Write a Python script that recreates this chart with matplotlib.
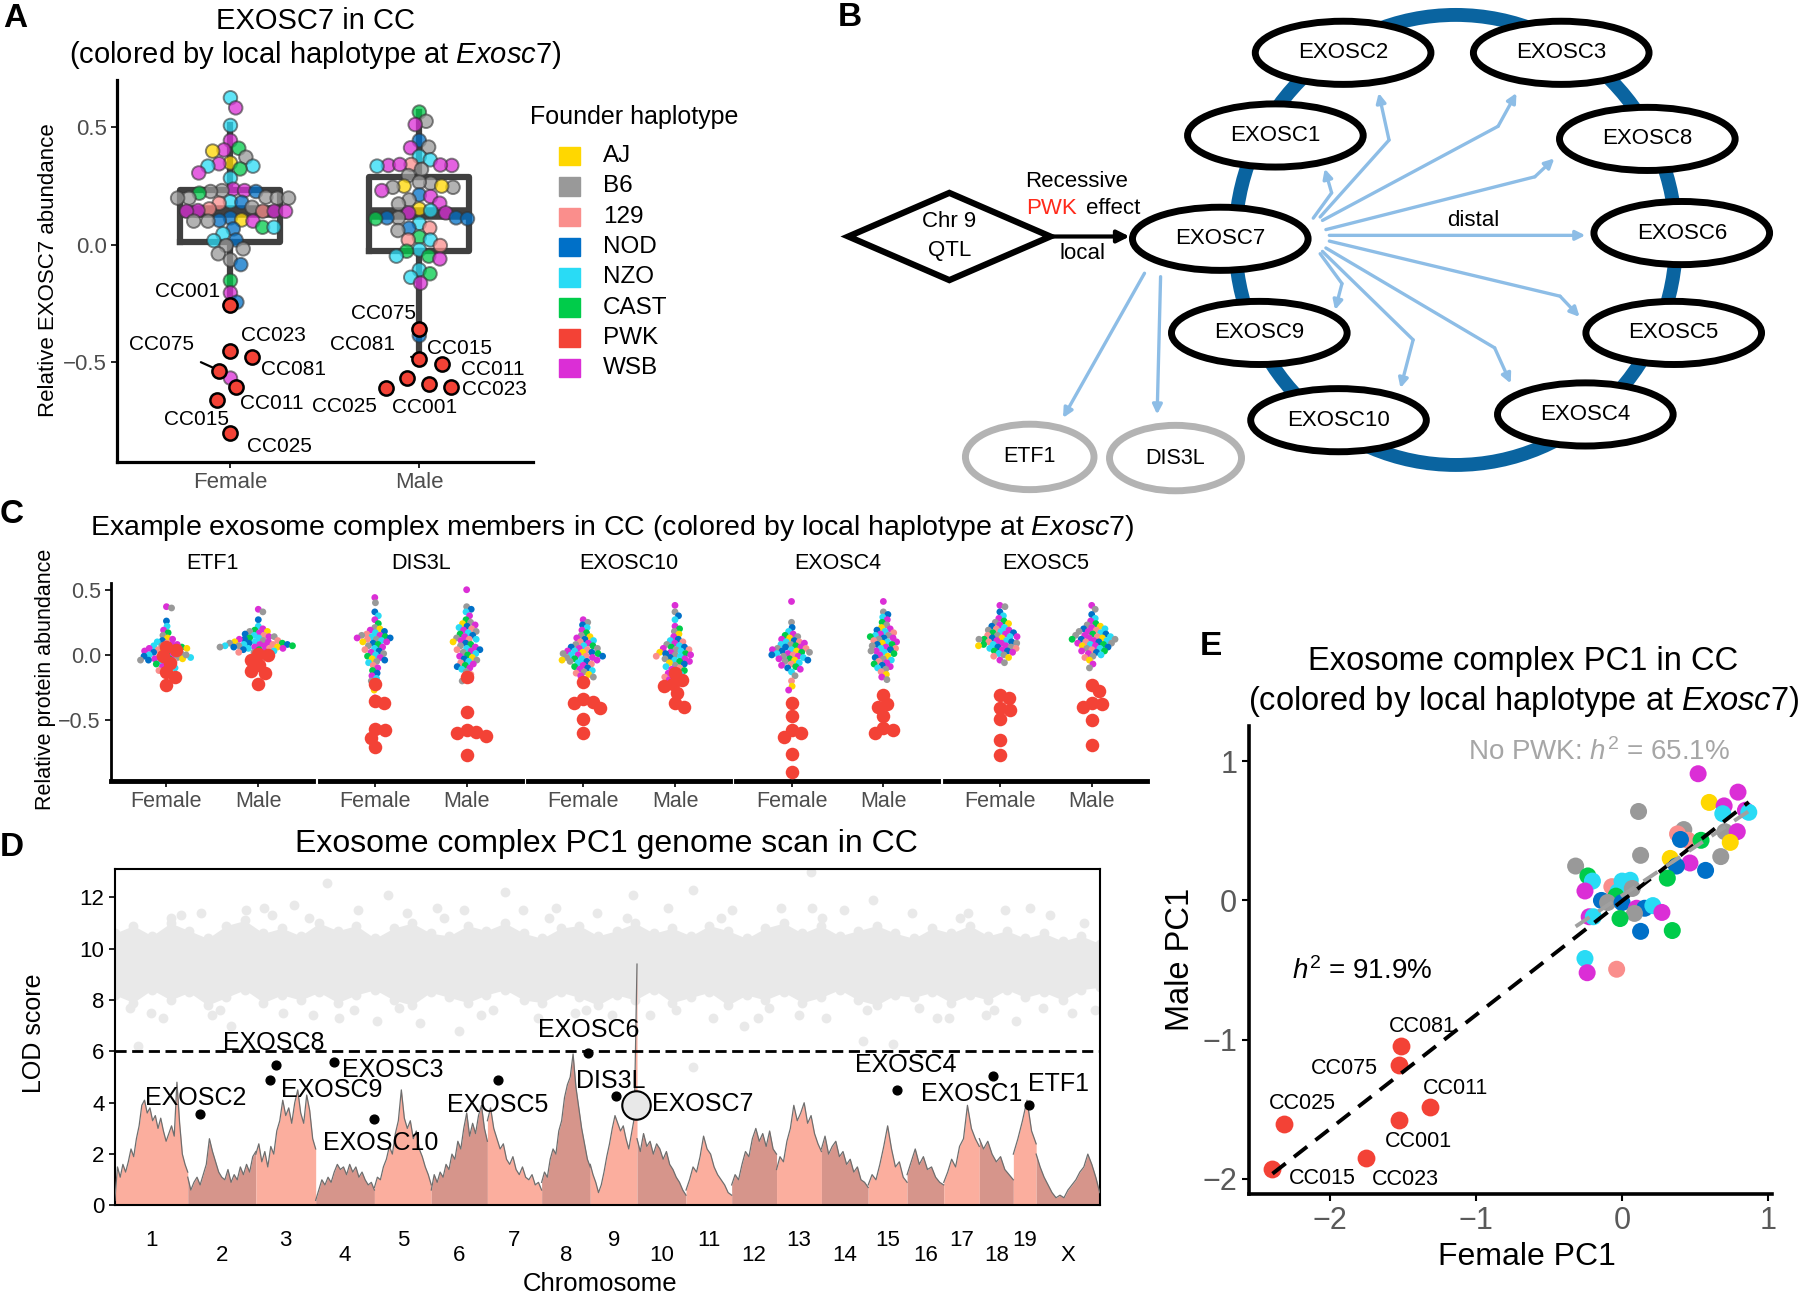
import numpy as np
import matplotlib
matplotlib.use("Agg")
import matplotlib.pyplot as plt
from matplotlib.colors import to_rgba
from matplotlib.patches import Ellipse, Polygon, Rectangle

plt.rcParams["font.family"] = ["Liberation Sans", "DejaVu Sans"]
plt.rcParams["mathtext.fontset"] = "custom"
plt.rcParams["mathtext.rm"] = "Liberation Sans"
plt.rcParams["mathtext.it"] = "Liberation Sans:italic"

# founder haplotype colours (code letter -> colour)
hap_names = ["AJ", "B6", "129", "NOD", "NZO", "CAST", "PWK", "WSB"]
hap_codes = ["A", "B", "1", "N", "Z", "C", "P", "W"]
hap_cols = ["#FFD700", "#999999", "#FA8E8C", "#0070C8", "#29DBF5", "#00CC4A", "#F34236", "#DB2ED6"]
col_of = dict(zip(hap_codes, hap_cols))
RED = col_of["P"]

# ---------------- panel A data (EXOSC7) ----------------
a_female = [0.626, 0.583, 0.508, 0.444, 0.411, 0.404, 0.399, 0.373, 0.349, 0.345,
            0.335, 0.335, 0.323, 0.306, 0.284, 0.237, 0.231, 0.231, 0.227, 0.220,
            0.227, 0.203, 0.199, 0.199, 0.199, 0.199, 0.184, 0.177, 0.181, 0.160,
            0.153, 0.146, 0.143, 0.143, 0.143, 0.143, 0.115, 0.104, 0.106, 0.101,
            0.101, 0.101, 0.075, 0.075, 0.068, 0.047, 0.021, 0.018, -0.003, -0.017,
            -0.038, -0.064, -0.084, -0.152, -0.204, -0.244, -0.567]
a_female_hap = "ZWZWCWABAWZZCWZWBWBCNBBBBBZ1NB1W1WWWNNABWBCZNZNZBBBBNCWNW"
a_male = [0.565, 0.526, 0.512, 0.444, 0.416, 0.413, 0.376, 0.362, 0.342, 0.338,
          0.338, 0.335, 0.340, 0.342, 0.321, 0.295, 0.262, 0.267, 0.250, 0.245,
          0.245, 0.250, 0.231, 0.213, 0.206, 0.191, 0.177, 0.174, 0.153, 0.146,
          0.136, 0.136, 0.115, 0.115, 0.115, 0.111, 0.111, 0.092, 0.072, 0.071,
          0.061, 0.033, 0.021, 0.021, -0.003, -0.021, -0.027, -0.048, -0.048, -0.060,
          -0.106, -0.123, -0.138, -0.163, -0.386]
a_male_hap = "CBWNBWZZ1WWZWWBBBBABBAWNWBWBAZWWBNNCNZ1NBCZ11ZCCZWZCZWN"
a_pwk_names = ["CC001", "CC075", "CC023", "CC081", "CC011", "CC015", "CC025"]
a_pwk_female = [-0.258, -0.535, -0.450, -0.478, -0.603, -0.660, -0.801]
a_pwk_male = [-0.592, -0.357, -0.603, -0.485, -0.566, -0.506, -0.609]

# ---------------- panel C data ----------------
c_genes = ["ETF1", "DIS3L", "EXOSC10", "EXOSC4", "EXOSC5"]
c_strain_hap = "WBNZWCBAWNZ1WBZCNWB1ZWANCBWZ1NWBZCWANBZ1WCNWZB1AWB"
c_female = [
    [0.37, 0.36, 0.26, 0.22, 0.19, 0.17, 0.15, 0.13, 0.12, 0.11, 0.10, 0.09, 0.08, 0.07, 0.07,
     0.06, 0.05, 0.05, 0.04, 0.04, 0.03, 0.03, 0.02, 0.02, 0.01, 0.01, 0.00, 0.00, -0.01, -0.01,
     -0.02, -0.02, -0.02, -0.03, -0.03, -0.03, -0.04, -0.04, -0.05, -0.05, -0.06, -0.07, -0.08,
     -0.09, -0.10, -0.11, -0.12, 0.05, 0.08, 0.00],
    [0.44, 0.40, 0.33, 0.30, 0.27, 0.24, 0.21, 0.20, 0.19, 0.18, 0.17, 0.16, 0.15, 0.15, 0.14,
     0.14, 0.13, 0.13, 0.12, 0.12, 0.11, 0.10, 0.10, 0.09, 0.08, 0.07, 0.06, 0.05, 0.04, 0.03,
     0.02, 0.01, 0.00, -0.01, -0.02, -0.03, -0.04, -0.05, -0.06, -0.08, -0.10, -0.12, -0.14,
     -0.16, -0.18, -0.20, -0.23, -0.27, -0.33, -0.36],
    [0.27, 0.25, 0.23, 0.21, 0.19, 0.17, 0.15, 0.14, 0.13, 0.12, 0.11, 0.10, 0.09, 0.08, 0.07,
     0.07, 0.06, 0.05, 0.05, 0.04, 0.03, 0.03, 0.02, 0.02, 0.01, 0.01, 0.00, 0.00, -0.01, -0.01,
     -0.02, -0.02, -0.03, -0.03, -0.04, -0.04, -0.05, -0.05, -0.06, -0.07, -0.08, -0.09, -0.10,
     -0.11, -0.12, -0.13, -0.14, -0.15, -0.16, -0.17],
    [0.41, 0.25, 0.21, 0.18, 0.16, 0.15, 0.14, 0.13, 0.12, 0.11, 0.10, 0.10, 0.09, 0.08, 0.08,
     0.07, 0.06, 0.06, 0.05, 0.05, 0.04, 0.04, 0.03, 0.03, 0.02, 0.02, 0.01, 0.01, 0.00, 0.00,
     -0.01, -0.01, -0.02, -0.03, -0.03, -0.04, -0.04, -0.05, -0.06, -0.07, -0.08, -0.09, -0.10,
     -0.11, -0.13, -0.16, -0.20, -0.24, -0.27, -0.35],
    [0.38, 0.37, 0.33, 0.30, 0.28, 0.26, 0.25, 0.24, 0.23, 0.22, 0.21, 0.20, 0.19, 0.19, 0.18,
     0.17, 0.17, 0.16, 0.15, 0.15, 0.14, 0.14, 0.13, 0.13, 0.12, 0.12, 0.11, 0.11, 0.10, 0.10,
     0.09, 0.09, 0.08, 0.08, 0.07, 0.07, 0.06, 0.06, 0.05, 0.05, 0.04, 0.03, 0.03, 0.02, 0.01,
     0.00, -0.01, -0.02, -0.04, -0.06],
]
c_male = [
    [0.35, 0.33, 0.27, 0.22, 0.20, 0.19, 0.18, 0.18, 0.17, 0.16, 0.15, 0.15, 0.14, 0.14, 0.13,
     0.13, 0.12, 0.12, 0.11, 0.11, 0.10, 0.10, 0.10, 0.09, 0.09, 0.09, 0.08, 0.08, 0.08, 0.08,
     0.07, 0.07, 0.07, 0.07, 0.06, 0.06, 0.06, 0.06, 0.05, 0.05, 0.05, 0.04, 0.04, 0.03, 0.03,
     0.02, 0.02, 0.01, 0.00, -0.01],
    [0.50, 0.37, 0.35, 0.33, 0.30, 0.27, 0.25, 0.24, 0.23, 0.22, 0.21, 0.20, 0.19, 0.18, 0.17,
     0.16, 0.15, 0.14, 0.13, 0.12, 0.12, 0.11, 0.10, 0.09, 0.08, 0.07, 0.06, 0.05, 0.04, 0.04,
     0.03, 0.02, 0.01, 0.00, -0.01, -0.02, -0.03, -0.04, -0.05, -0.06, -0.07, -0.08, -0.09,
     -0.10, -0.11, -0.13, -0.15, -0.17, -0.19, -0.20],
    [0.38, 0.33, 0.30, 0.27, 0.22, 0.20, 0.18, 0.16, 0.14, 0.12, 0.11, 0.10, 0.09, 0.08, 0.07,
     0.06, 0.06, 0.05, 0.04, 0.04, 0.03, 0.02, 0.02, 0.01, 0.01, 0.00, 0.00, -0.01, -0.01, -0.02,
     -0.03, -0.03, -0.04, -0.05, -0.05, -0.06, -0.07, -0.08, -0.09, -0.10, -0.11, -0.12, -0.13,
     -0.14, -0.15, -0.16, -0.17, -0.18, -0.19, -0.20],
    [0.41, 0.33, 0.31, 0.29, 0.27, 0.25, 0.23, 0.21, 0.20, 0.19, 0.18, 0.17, 0.16, 0.15, 0.15,
     0.14, 0.13, 0.13, 0.12, 0.11, 0.10, 0.10, 0.09, 0.08, 0.08, 0.07, 0.06, 0.05, 0.05, 0.04,
     0.03, 0.03, 0.02, 0.01, 0.00, -0.01, -0.02, -0.03, -0.04, -0.05, -0.06, -0.07, -0.08,
     -0.09, -0.10, -0.11, -0.13, -0.15, -0.17, -0.19],
    [0.38, 0.35, 0.31, 0.28, 0.26, 0.24, 0.23, 0.22, 0.21, 0.20, 0.20, 0.19, 0.18, 0.18, 0.17,
     0.16, 0.16, 0.15, 0.15, 0.14, 0.14, 0.13, 0.13, 0.12, 0.12, 0.12, 0.11, 0.11, 0.10, 0.10,
     0.09, 0.09, 0.08, 0.08, 0.07, 0.07, 0.06, 0.05, 0.05, 0.04, 0.03, 0.03, 0.02, 0.01, 0.00,
     -0.01, -0.02, -0.04, -0.07, -0.10],
]
c_pwk_female = [
    [-0.23, -0.17, -0.13, -0.06, -0.01, 0.04, 0.06],
    [-0.22, -0.35, -0.37, -0.57, -0.58, -0.64, -0.71],
    [-0.21, -0.34, -0.36, -0.37, -0.41, -0.49, -0.60],
    [-0.37, -0.47, -0.58, -0.60, -0.63, -0.76, -0.90],
    [-0.31, -0.33, -0.41, -0.42, -0.49, -0.65, -0.77],
]
c_pwk_male = [
    [0.01, 0.00, -0.04, -0.08, -0.12, -0.14, -0.22],
    [-0.17, -0.44, -0.58, -0.59, -0.60, -0.62, -0.77],
    [-0.14, -0.19, -0.22, -0.24, -0.29, -0.37, -0.40],
    [-0.31, -0.38, -0.40, -0.47, -0.56, -0.58, -0.60],
    [-0.23, -0.28, -0.37, -0.38, -0.40, -0.50, -0.69],
]

# ---------------- panel D data (genome scan) ----------------
chr_names = ["1", "2", "3", "4", "5", "6", "7", "8", "9", "10",
             "11", "12", "13", "14", "15", "16", "17", "18", "19", "X"]
chr_len = [195, 182, 160, 157, 152, 150, 145, 130, 125, 131,
           122, 120, 120, 125, 104, 98, 95, 91, 61, 170]
lod_by_chr = [
    [0.2, 1.5, 1.1, 1.6, 1.3, 1.7, 2.2, 1.9, 2.6, 3.1, 3.9, 4.1, 3.6, 3.8, 3.3, 3.5, 3.0, 3.4,
     2.9, 2.5, 2.8, 3.1, 2.7, 4.8, 3.2, 2.0, 1.6, 1.3],
    [1.1, 0.6, 0.9, 1.1, 0.8, 1.2, 1.6, 2.6, 2.1, 1.7, 1.3, 1.1, 1.0, 1.4, 0.9, 1.2, 1.0, 1.5,
     1.2, 1.6, 1.3, 1.9, 2.1],
    [2.0, 2.4, 1.7, 2.1, 1.5, 2.3, 2.0, 2.9, 3.3, 4.1, 3.5, 3.8, 3.2, 4.0, 4.5, 3.6, 3.2, 4.3,
     3.7, 2.6, 2.2],
    [0.2, 0.6, 1.0, 0.8, 1.1, 0.9, 1.3, 1.6, 1.4, 1.5, 1.2, 1.6, 1.3, 1.5, 1.1, 1.3, 1.0, 0.8,
     0.9, 0.6],
    [0.7, 1.1, 1.0, 1.5, 1.8, 2.3, 2.0, 2.8, 3.3, 4.5, 3.4, 3.0, 3.3, 2.6, 2.9, 2.2, 1.9, 1.5,
     1.2, 0.8],
    [0.6, 1.2, 0.9, 1.3, 1.1, 1.6, 1.4, 2.0, 1.8, 2.5, 2.2, 3.0, 3.6, 2.7, 3.2, 2.8, 3.5, 3.9,
     3.0, 2.5],
    [3.3, 3.8, 3.0, 2.6, 2.2, 2.4, 1.8, 1.6, 1.9, 1.4, 1.2, 1.5, 1.1, 1.0, 1.2, 0.8, 0.9, 0.6],
    [0.9, 1.3, 1.1, 1.8, 2.2, 2.0, 2.9, 3.3, 4.2, 4.7, 5.0, 5.9, 4.6, 3.8, 3.0, 2.4, 1.8, 1.5],
    [1.6, 1.2, 0.9, 0.5, 0.8, 1.3, 1.9, 2.4, 3.0, 3.5, 3.2, 2.9, 3.1, 2.6, 2.2, 2.8, 3.4, 9.4],
    [2.6, 2.1, 2.8, 2.3, 2.5, 2.0, 2.4, 2.2, 1.8, 2.1, 1.6, 1.4, 1.1, 0.9, 0.6, 0.4],
    [0.6, 1.0, 1.5, 1.3, 1.9, 2.7, 2.2, 2.0, 1.5, 1.2, 1.0, 0.8, 0.5, 0.4],
    [0.8, 1.2, 1.0, 1.6, 2.1, 1.9, 2.6, 3.0, 2.5, 2.8, 2.3, 2.9, 2.2, 2.0],
    [1.4, 1.9, 1.7, 2.5, 3.0, 3.9, 3.3, 3.6, 4.0, 3.2, 3.5, 2.8, 2.4, 2.1],
    [2.2, 2.7, 2.0, 2.3, 2.5, 1.9, 2.1, 1.6, 1.8, 1.3, 1.5, 1.0, 0.9, 0.7],
    [0.8, 1.2, 1.0, 1.6, 2.3, 3.1, 2.2, 1.5, 1.7, 1.1, 0.9],
    [1.2, 1.7, 2.2, 1.6, 1.9, 1.4, 1.5, 1.1, 0.9, 0.8],
    [0.9, 1.3, 1.8, 1.5, 2.3, 2.6, 3.9, 3.0, 2.6, 2.3],
    [2.6, 2.2, 2.5, 2.0, 1.7, 1.9, 1.4, 1.2, 1.0],
    [2.0, 2.6, 3.3, 4.1, 2.9, 2.4],
    [2.0, 1.5, 1.1, 0.8, 0.5, 0.3, 0.4, 0.3, 0.6, 0.8, 1.0, 1.3, 1.5, 2.0, 1.6, 1.1, 0.5],
]
# permutation cloud: dense band edges (evenly along genome) plus scattered points
band_hi = [10.6, 10.9, 10.5, 11.0, 10.7, 10.4, 10.9, 11.1, 10.6, 10.8, 10.5, 11.0, 10.7, 10.9,
           10.4, 10.8, 11.0, 10.6, 10.5, 10.9, 10.7, 11.0, 10.6, 10.4, 10.8, 10.9, 10.5, 10.7,
           11.0, 10.6, 10.8, 10.5, 10.9, 10.7, 10.4, 10.8, 11.0, 10.6, 10.9, 10.5, 10.7, 10.9,
           10.6, 10.4, 10.8, 10.6, 10.9, 10.5, 10.7, 10.4, 10.6, 10.3, 10.5, 10.2]
band_lo = [8.2, 7.9, 8.4, 8.0, 8.3, 7.8, 8.1, 8.4, 7.9, 8.2, 8.0, 8.3, 7.9, 8.2, 8.4, 8.0,
           7.8, 8.3, 8.1, 7.9, 8.2, 8.4, 8.0, 7.9, 8.3, 8.1, 7.8, 8.2, 8.0, 8.4, 7.9, 8.1,
           8.3, 7.8, 8.2, 8.0, 8.3, 7.9, 8.1, 8.4, 8.0, 7.8, 8.2, 8.1, 8.3, 7.9, 8.2, 8.0,
           8.4, 8.1, 8.3, 8.0, 8.4, 8.5]
cloud_pts = [(61, 6.2), (96, 7.5), (130, 7.3), (176, 11.3), (230, 11.4), (260, 7.4), (310, 7.0),
             (350, 11.5), (400, 11.6), (450, 7.5), (480, 11.7), (530, 7.4), (567, 12.55), (600, 7.3),
             (650, 11.5), (700, 7.2), (730, 12.1), (780, 11.4), (816, 7.1), (860, 11.6), (921, 6.8),
             (933, 11.5), (980, 7.4), (1044, 12.2), (1090, 11.5), (1130, 7.3), (1180, 11.6),
             (1230, 7.5), (1290, 11.4), (1330, 7.4), (1384, 12.1), (1430, 7.4), (1480, 11.6),
             (1546, 12.3), (1546, 5.4), (1600, 7.3), (1650, 11.5), (1683, 7.0), (1720, 7.3),
             (1780, 11.6), (1830, 7.4), (1862, 13.0), (1864, 11.6), (1900, 7.3), (1950, 11.5),
             (1999, 6.4), (2027, 11.9), (2080, 6.3), (2130, 11.4), (2199, 7.3), (2230, 7.3),
             (2280, 11.4), (2330, 7.4), (2380, 11.5), (2408, 7.2), (2447, 11.6), (2500, 11.3),
             (2560, 7.5), (2619, 7.6), (40, 7.7), (150, 11.2), (280, 7.6), (420, 11.3), (520, 11.2),
             (640, 7.6), (760, 7.7), (880, 11.2), (1010, 7.6), (1160, 11.2), (1260, 7.6),
             (1370, 11.2), (1500, 7.6), (1620, 11.2), (1750, 7.7), (1890, 11.2), (2010, 7.6),
             (2150, 7.7), (2260, 11.2), (2350, 7.6), (2480, 7.7), (2590, 11.0)]
lod_threshold = 6.0
d_genes = ["EXOSC2", "EXOSC8", "EXOSC9", "EXOSC3", "EXOSC10", "EXOSC5",
           "EXOSC6", "DIS3L", "EXOSC4", "EXOSC1", "ETF1"]
d_gene_pos = [227, 432, 414, 586, 693, 1024, 1264, 1340, 2092, 2347, 2445]
d_gene_lod = [3.58, 5.46, 4.88, 5.60, 3.36, 4.88, 5.95, 4.25, 4.50, 5.06, 3.90]
d_exosc7_pos, d_exosc7_lod = 1394, 3.9

# ---------------- panel E data (PC1) ----------------
e_hap = "WWAWBWZZB1BW1NCABABWNNBCZCW1ZZZCBNBNWNZWBWZCNCZ1W"
e_female = [0.521, 0.794, 0.597, 0.699, 0.113, 0.845, 0.868, 0.690, 0.423, 0.380,
            0.704, 0.789, 0.451, 0.400, 0.541, 0.741, 0.127, 0.330, 0.676, 0.465,
            0.372, 0.572, -0.318, -0.234, -0.203, 0.310, -0.254, -0.070, 0.000, 0.056,
            -0.028, -0.042, 0.070, -0.141, -0.099, 0.000, 0.099, 0.155, 0.211, 0.273,
            0.085, -0.225, -0.197, -0.014, 0.127, 0.344, -0.254, -0.037, -0.239]
e_male = [0.910, 0.778, 0.704, 0.679, 0.639, 0.648, 0.633, 0.623, 0.509, 0.478,
          0.494, 0.494, 0.432, 0.438, 0.432, 0.417, 0.324, 0.302, 0.315, 0.269,
          0.247, 0.216, 0.247, 0.176, 0.139, 0.160, 0.068, 0.099, 0.139, 0.145,
          0.062, 0.031, 0.086, 0.000, -0.015, -0.015, -0.056, -0.056, -0.037, -0.086,
          -0.093, -0.117, -0.117, -0.130, -0.222, -0.216, -0.417, -0.494, -0.519]
e_pwk_names = ["CC081", "CC075", "CC011", "CC001", "CC025", "CC015", "CC023"]
e_pwk_female = [-1.513, -1.530, -1.315, -1.527, -2.315, -2.394, -1.752]
e_pwk_male = [-1.043, -1.179, -1.481, -1.574, -1.605, -1.929, -1.852]

# ======================================================================
FW, FH = 1800, 1295
W, H = 1568.0, 1128.0  # layout grid used below


def rect(x0, y0, x1, y1):
    return [x0 / W, 1 - y1 / H, (x1 - x0) / W, (y1 - y0) / H]


fig = plt.figure(figsize=(FW / 100, FH / 100), dpi=100)


def ftext(x, y, s, **kw):
    kw.setdefault("ha", "center")
    kw.setdefault("va", "center")
    fig.text(x / W, 1 - y / H, s, **kw)


def swarm(ax, ys, diam, gap=1.0):
    # simple beeswarm: x offsets (data units) so that dots don't overlap
    x0, x1 = ax.get_xlim()
    y0, y1 = ax.get_ylim()
    pos = ax.get_position()
    sx = pos.width * FW / (x1 - x0)
    sy = pos.height * FH / (y1 - y0)
    ys = np.asarray(ys, float)
    diam = np.asarray(diam, float)
    px, py, pd = [], [], []
    off = np.zeros(len(ys))
    for i in np.argsort(-ys, kind="stable"):
        yi = ys[i] * sy
        cands = [0.0]
        for xj, yj, dj in zip(px, py, pd):
            dm = gap * (diam[i] + dj) / 2
            dy = yi - yj
            if abs(dy) < dm:
                dx = np.sqrt(dm * dm - dy * dy)
                cands += [xj + dx, xj - dx]
        cands.sort(key=abs)
        for c in cands:
            if all((c - xj) ** 2 + (yi - yj) ** 2 >= (gap * (diam[i] + dj) / 2) ** 2 - 1e-6
                   for xj, yj, dj in zip(px, py, pd)):
                break
        off[i] = c
        px.append(c)
        py.append(yi)
        pd.append(diam[i])
    return off / sx


GRAY_TXT = "#4D4D4D"

# ---------------- A ----------------
axA = fig.add_axes(rect(102, 70, 464, 402))
axA.set_xlim(0.4, 2.6)
axA.set_ylim(-0.922, 0.70)
box_kw = dict(color="#404040", lw=4.5)
axA.boxplot([a_female + a_pwk_female, a_male + a_pwk_male], positions=[1, 2], widths=0.53,
            whis=1.5, showfliers=False, showcaps=False, boxprops=box_kw, whiskerprops=box_kw,
            medianprops=dict(color="#404040", lw=9, solid_capstyle="butt"), zorder=1)

# label offsets in points (dx, dy) and which ones get a leader line
a_off_f = {"CC001": (-31, 10), "CC075": (-42, 19), "CC023": (31, 11), "CC081": (30, -9),
           "CC011": (26, -12), "CC015": (-15, -14), "CC025": (35, -10)}
a_off_m = {"CC001": (-3, -17), "CC075": (-26, 11), "CC023": (31, -2), "CC081": (-41, 10),
           "CC011": (62, 6), "CC015": (13, 11), "CC025": (-30, -13)}
a_lead_f = ["CC075"]
a_lead_m = ["CC081"]
for xc, vals, haps, pwk, offs, lead in [(1, a_female, a_female_hap, a_pwk_female, a_off_f, a_lead_f),
                                         (2, a_male, a_male_hap, a_pwk_male, a_off_m, a_lead_m)]:
    xo = xc + swarm(axA, vals, [12] * len(vals), gap=0.95)
    xp = xc + swarm(axA, pwk, [24] * len(pwk), gap=0.95)
    axA.scatter(xo, vals, s=95, c=[to_rgba(col_of[h], 0.75) for h in haps],
                edgecolors=[(0.2, 0.2, 0.2, 0.6)], linewidths=1.4, zorder=3)
    axA.scatter(xp, pwk, s=105, c=RED, edgecolors="black", linewidths=1.8, zorder=4)
    for k, name in enumerate(a_pwk_names):
        axA.annotate(name, xy=(xp[k], pwk[k]), xytext=offs[name], textcoords="offset points",
                     ha="center", va="center", fontsize=15,
                     arrowprops=dict(arrowstyle="-", color="black", lw=1.6, shrinkA=10, shrinkB=5)
                     if name in lead else None, zorder=5)
for s in ["top", "right"]:
    axA.spines[s].set_visible(False)
for s in ["left", "bottom"]:
    axA.spines[s].set_linewidth(2.3)
axA.set_yticks([0.5, 0.0, -0.5])
axA.set_yticklabels(["0.5", "0.0", "\u22120.5"])
axA.set_xticks([1, 2])
axA.set_xticklabels(["Female", "Male"])
axA.tick_params(labelsize=16, labelcolor=GRAY_TXT, length=4, width=1.2)
ftext(275, 18, "EXOSC7 in CC", fontsize=21)
ftext(275, 48, "(colored by local haplotype at $\\mathit{Exosc7}$)", fontsize=21)
ftext(42, 235, "Relative EXOSC7 abundance", fontsize=16, rotation=90)
ftext(13, 16, "A", fontsize=24, fontweight="bold")

# legend
axL = fig.add_axes(rect(455, 85, 700, 340))
axL.set_xlim(455, 700)
axL.set_ylim(340, 85)
axL.axis("off")
axL.text(462, 102, "Founder haplotype", fontsize=18, va="center")
for k, (nm, cl) in enumerate(zip(hap_names, hap_cols)):
    yc = 136 + k * 26.4
    axL.add_patch(Rectangle((487, yc - 8), 18, 16, color=cl))
    axL.text(525, yc, nm, fontsize=17.5, va="center")

# ---------------- B ----------------
axB = fig.add_axes(rect(700, 0, 1568, 445))
axB.set_xlim(700, 1568)
axB.set_ylim(445, 0)
axB.axis("off")
axB.add_patch(Ellipse((1268, 209), 384, 392, fill=False, ec="#0A64A0", lw=10, zorder=1))
b_nodes = {"EXOSC2": (1170, 46), "EXOSC3": (1360, 46), "EXOSC1": (1111, 118),
           "EXOSC8": (1435, 121), "EXOSC7": (1063, 208), "EXOSC6": (1465, 203),
           "EXOSC9": (1097, 290), "EXOSC5": (1458, 290), "EXOSC10": (1166, 366),
           "EXOSC4": (1381, 361)}
for name, (cx, cy) in b_nodes.items():
    axB.add_patch(Ellipse((cx, cy), 153, 55, fc="white", ec="black", lw=5, zorder=3))
    axB.text(cx, cy, name, fontsize=16, ha="center", va="center", zorder=4)
for name, (cx, cy), w in [("ETF1", (897, 398), 112), ("DIS3L", (1024, 399), 115)]:
    axB.add_patch(Ellipse((cx, cy), w, 57, fc="white", ec="#B3B3B3", lw=5, zorder=3))
    axB.text(cx, cy, name, fontsize=15.5, ha="center", va="center", zorder=4)
axB.add_patch(Polygon([(739, 206), (827, 168), (915, 206), (827, 244)], closed=True,
                      fc="white", ec="black", lw=4.5, joinstyle="miter", zorder=3))
axB.text(827, 206, "Chr 9\nQTL", fontsize=16, ha="center", va="center", linespacing=1.5, zorder=4)
axB.annotate("", xy=(984, 206), xytext=(915, 206),
             arrowprops=dict(arrowstyle="-|>", color="black", lw=3, mutation_scale=18,
                             shrinkA=0, shrinkB=0), zorder=4)
axB.text(938, 158, "Recessive", fontsize=16, ha="center", va="center")
axB.text(894, 182, "PWK", fontsize=16, ha="left", va="center", color="#FF2A1A")
axB.text(946, 182, "effect", fontsize=16, ha="left", va="center")
axB.text(943, 221, "local", fontsize=16, ha="center", va="center")
axB.text(1283, 192, "distal", fontsize=16, ha="center", va="center")
b_arrows = [
    [(1144, 190), (1160, 168), (1154, 147)],
    [(1150, 189), (1210, 122), (1201, 81)],
    [(1152, 192), (1305, 110), (1321, 81)],
    [(1155, 200), (1337, 154), (1354, 138)],
    [(1158, 205), (1381, 205)],
    [(1158, 210), (1359, 258), (1376, 276)],
    [(1155, 216), (1302, 303), (1316, 334)],
    [(1152, 219), (1231, 296), (1220, 338)],
    [(1150, 221), (1169, 247), (1163, 270)],
    [(997, 238), (926, 364)],
    [(1011, 241), (1008, 361)],
]
ARROW = "#8DBDE6"
for path in b_arrows:
    xs, ys = zip(*path)
    axB.plot(xs[:-1], ys[:-1], color=ARROW, lw=2.4, solid_capstyle="round", zorder=2)
    axB.annotate("", xy=path[-1], xytext=path[-2],
                 arrowprops=dict(arrowstyle="-|>", color=ARROW, lw=2.4, mutation_scale=14,
                                 shrinkA=0, shrinkB=0), zorder=2)
ftext(740, 15, "B", fontsize=24, fontweight="bold")

# ---------------- C ----------------
ftext(533, 460, "Example exosome complex members in CC (colored by local haplotype at $\\mathit{Exosc7}$)",
      fontsize=20.5)
ftext(40, 592, "Relative protein abundance", fontsize=15.5, rotation=90)
ftext(10, 448, "C", fontsize=24, fontweight="bold")
for k, gene in enumerate(c_genes):
    x0 = 97 + k * 181.5
    ax = fig.add_axes(rect(x0, 508, x0 + 176, 680))
    ax.set_xlim(0.4, 2.6)
    ax.set_ylim(-0.965, 0.55)
    for xc, vals, pwk in [(1, c_female[k], c_pwk_female[k]), (2, c_male[k], c_pwk_male[k])]:
        xo = xc + swarm(ax, vals, [7] * len(vals), gap=0.75)
        xp = xc + swarm(ax, pwk, [11] * len(pwk), gap=0.9)
        ax.scatter(xo, vals, s=24, c=[col_of[h] for h in c_strain_hap[:len(vals)]],
                   linewidths=0, zorder=3)
        ax.scatter(xp, pwk, s=95, c=RED, linewidths=0, zorder=4)
    for s in ["top", "right"]:
        ax.spines[s].set_visible(False)
    ax.spines["bottom"].set_linewidth(3.5)
    ax.set_xticks([1, 2])
    ax.set_xticklabels(["Female", "Male"])
    if k == 0:
        ax.spines["left"].set_linewidth(2)
        ax.set_yticks([0.5, 0.0, -0.5])
        ax.set_yticklabels(["0.5", "0.0", "\u22120.5"])
    else:
        ax.spines["left"].set_visible(False)
        ax.set_yticks([])
    ax.tick_params(labelsize=15.5, labelcolor=GRAY_TXT, length=4, width=1.2)
    ftext(x0 + 88, 491, gene, fontsize=15.5)

# ---------------- D ----------------
axD = fig.add_axes(rect(100, 757, 958, 1050))
total = sum(chr_len)
axD.set_xlim(0, total)
axD.set_ylim(0, 13.1)
starts = np.concatenate([[0], np.cumsum(chr_len)])
CLOUD = "#E9E9E9"
band_pos = np.linspace(0, total, len(band_hi))
axD.fill_between(band_pos, band_lo, band_hi, color=CLOUD, lw=0, zorder=1)
axD.scatter(band_pos, band_hi, s=50, color=CLOUD, linewidths=0, zorder=1)
axD.scatter(band_pos, band_lo, s=50, color=CLOUD, linewidths=0, zorder=1)
cx, cy = zip(*cloud_pts)
axD.scatter(cx, cy, s=50, color=CLOUD, linewidths=0, zorder=1)
for i, (st, ln, lods) in enumerate(zip(starts[:-1], chr_len, lod_by_chr)):
    xs = st + np.linspace(0, ln, len(lods))
    axD.fill_between(xs, 0, lods, color="#FBAE9E" if i % 2 == 0 else "#D6958B", lw=0, zorder=2)
    axD.plot(xs, lods, color="#6E6E6E", lw=0.9, zorder=3)
    axD.annotate(chr_names[i], xy=(st + ln / 2, 0), xycoords=("data", "axes fraction"),
                 xytext=(0, -25 if i % 2 == 0 else -36), textcoords="offset points",
                 ha="center", va="center", fontsize=16)
axD.axhline(lod_threshold, color="black", lw=2, ls=(0, (4, 2)), zorder=4)
axD.scatter(d_gene_pos, d_gene_lod, s=40, color="black", zorder=5)
axD.scatter([d_exosc7_pos], [d_exosc7_lod], s=420, color="#E8E8E8", edgecolors="black",
            linewidths=1.5, zorder=5)
d_off = {"EXOSC2": (-3, 11), "EXOSC8": (-2, 16), "EXOSC9": (45, -7), "EXOSC3": (42, -6),
         "EXOSC10": (5, -17), "EXOSC5": (0, -18), "EXOSC6": (1, 16), "DIS3L": (-4, 11),
         "EXOSC4": (6, 18), "EXOSC1": (-15, -13), "ETF1": (21, 15)}
for name, xp, yl in zip(d_genes, d_gene_pos, d_gene_lod):
    axD.annotate(name, xy=(xp, yl), xytext=d_off[name], textcoords="offset points",
                 ha="center", va="center", fontsize=18, zorder=6)
axD.annotate("EXOSC7", xy=(d_exosc7_pos, d_exosc7_lod), xytext=(48, 1), textcoords="offset points",
             ha="center", va="center", fontsize=18, zorder=6)
axD.set_xticks([])
axD.set_yticks([0, 2, 4, 6, 8, 10, 12])
axD.tick_params(labelsize=16, length=4, width=1.2)
for s in axD.spines.values():
    s.set_linewidth(1.5)
ftext(528, 735, "Exosome complex PC1 genome scan in CC", fontsize=23)
ftext(30, 900, "LOD score", fontsize=18, rotation=90)
ftext(523, 1118, "Chromosome", fontsize=18.5)
ftext(10, 738, "D", fontsize=24, fontweight="bold")

# ---------------- E ----------------
axE = fig.add_axes(rect(1088, 632, 1544, 1040))
axE.set_xlim(-2.555, 1.03)
axE.set_ylim(-2.108, 1.256)
all_f = np.array(e_female + e_pwk_female)
all_m = np.array(e_male + e_pwk_male)
b1, b0 = np.polyfit(all_f, all_m, 1)
xx = np.array([all_f.min(), all_f.max()])
axE.plot(xx, b0 + b1 * xx, color="black", lw=2.8, ls=(0, (4.3, 2.7)), zorder=4)
g1, g0 = np.polyfit(e_female, e_male, 1)
xg = np.array([min(e_female), max(e_female)])
axE.plot(xg, g0 + g1 * xg, color="#A0A0A0", lw=2.8, ls=(0, (4.3, 2.7)), zorder=4)
axE.scatter(e_female, e_male, s=150, c=[col_of[h] for h in e_hap], linewidths=0, zorder=3)
axE.scatter(e_pwk_female, e_pwk_male, s=165, c=RED, linewidths=0, zorder=3)
e_off = {"CC081": (15, 14), "CC075": (-39, -3), "CC011": (18, 13), "CC001": (14, -16),
         "CC025": (13, 15), "CC015": (36, -7), "CC023": (28, -15)}
for name, xf, ym in zip(e_pwk_names, e_pwk_female, e_pwk_male):
    axE.annotate(name, xy=(xf, ym), xytext=e_off[name], textcoords="offset points",
                 ha="center", va="center", fontsize=15.5, zorder=5)
axE.text(-0.16, 1.065, "No PWK: $h^2$ = 65.1%", color="#A6A6A6", fontsize=20, ha="center", va="center")
axE.text(-1.78, -0.51, "$h^2$ = 91.9%", color="black", fontsize=20, ha="center", va="center")
for s in ["top", "right"]:
    axE.spines[s].set_visible(False)
for s in ["left", "bottom"]:
    axE.spines[s].set_linewidth(2.6)
axE.set_xticks([-2, -1, 0, 1])
axE.set_xticklabels(["\u22122", "\u22121", "0", "1"])
axE.set_yticks([-2, -1, 0, 1])
axE.set_yticklabels(["\u22122", "\u22121", "0", "1"])
axE.tick_params(labelsize=22, labelcolor="#5A5A5A", length=5, width=1.5)
ftext(1327, 576, "Exosome complex PC1 in CC", fontsize=23.5)
ftext(1327, 611, "(colored by local haplotype at $\\mathit{Exosc7}$)", fontsize=23.5)
ftext(1330, 1095, "Female PC1", fontsize=23)
ftext(1028, 836, "Male PC1", fontsize=23.5, rotation=90)
ftext(1055, 563, "E", fontsize=24, fontweight="bold")

fig.savefig("out.png", dpi=100)
